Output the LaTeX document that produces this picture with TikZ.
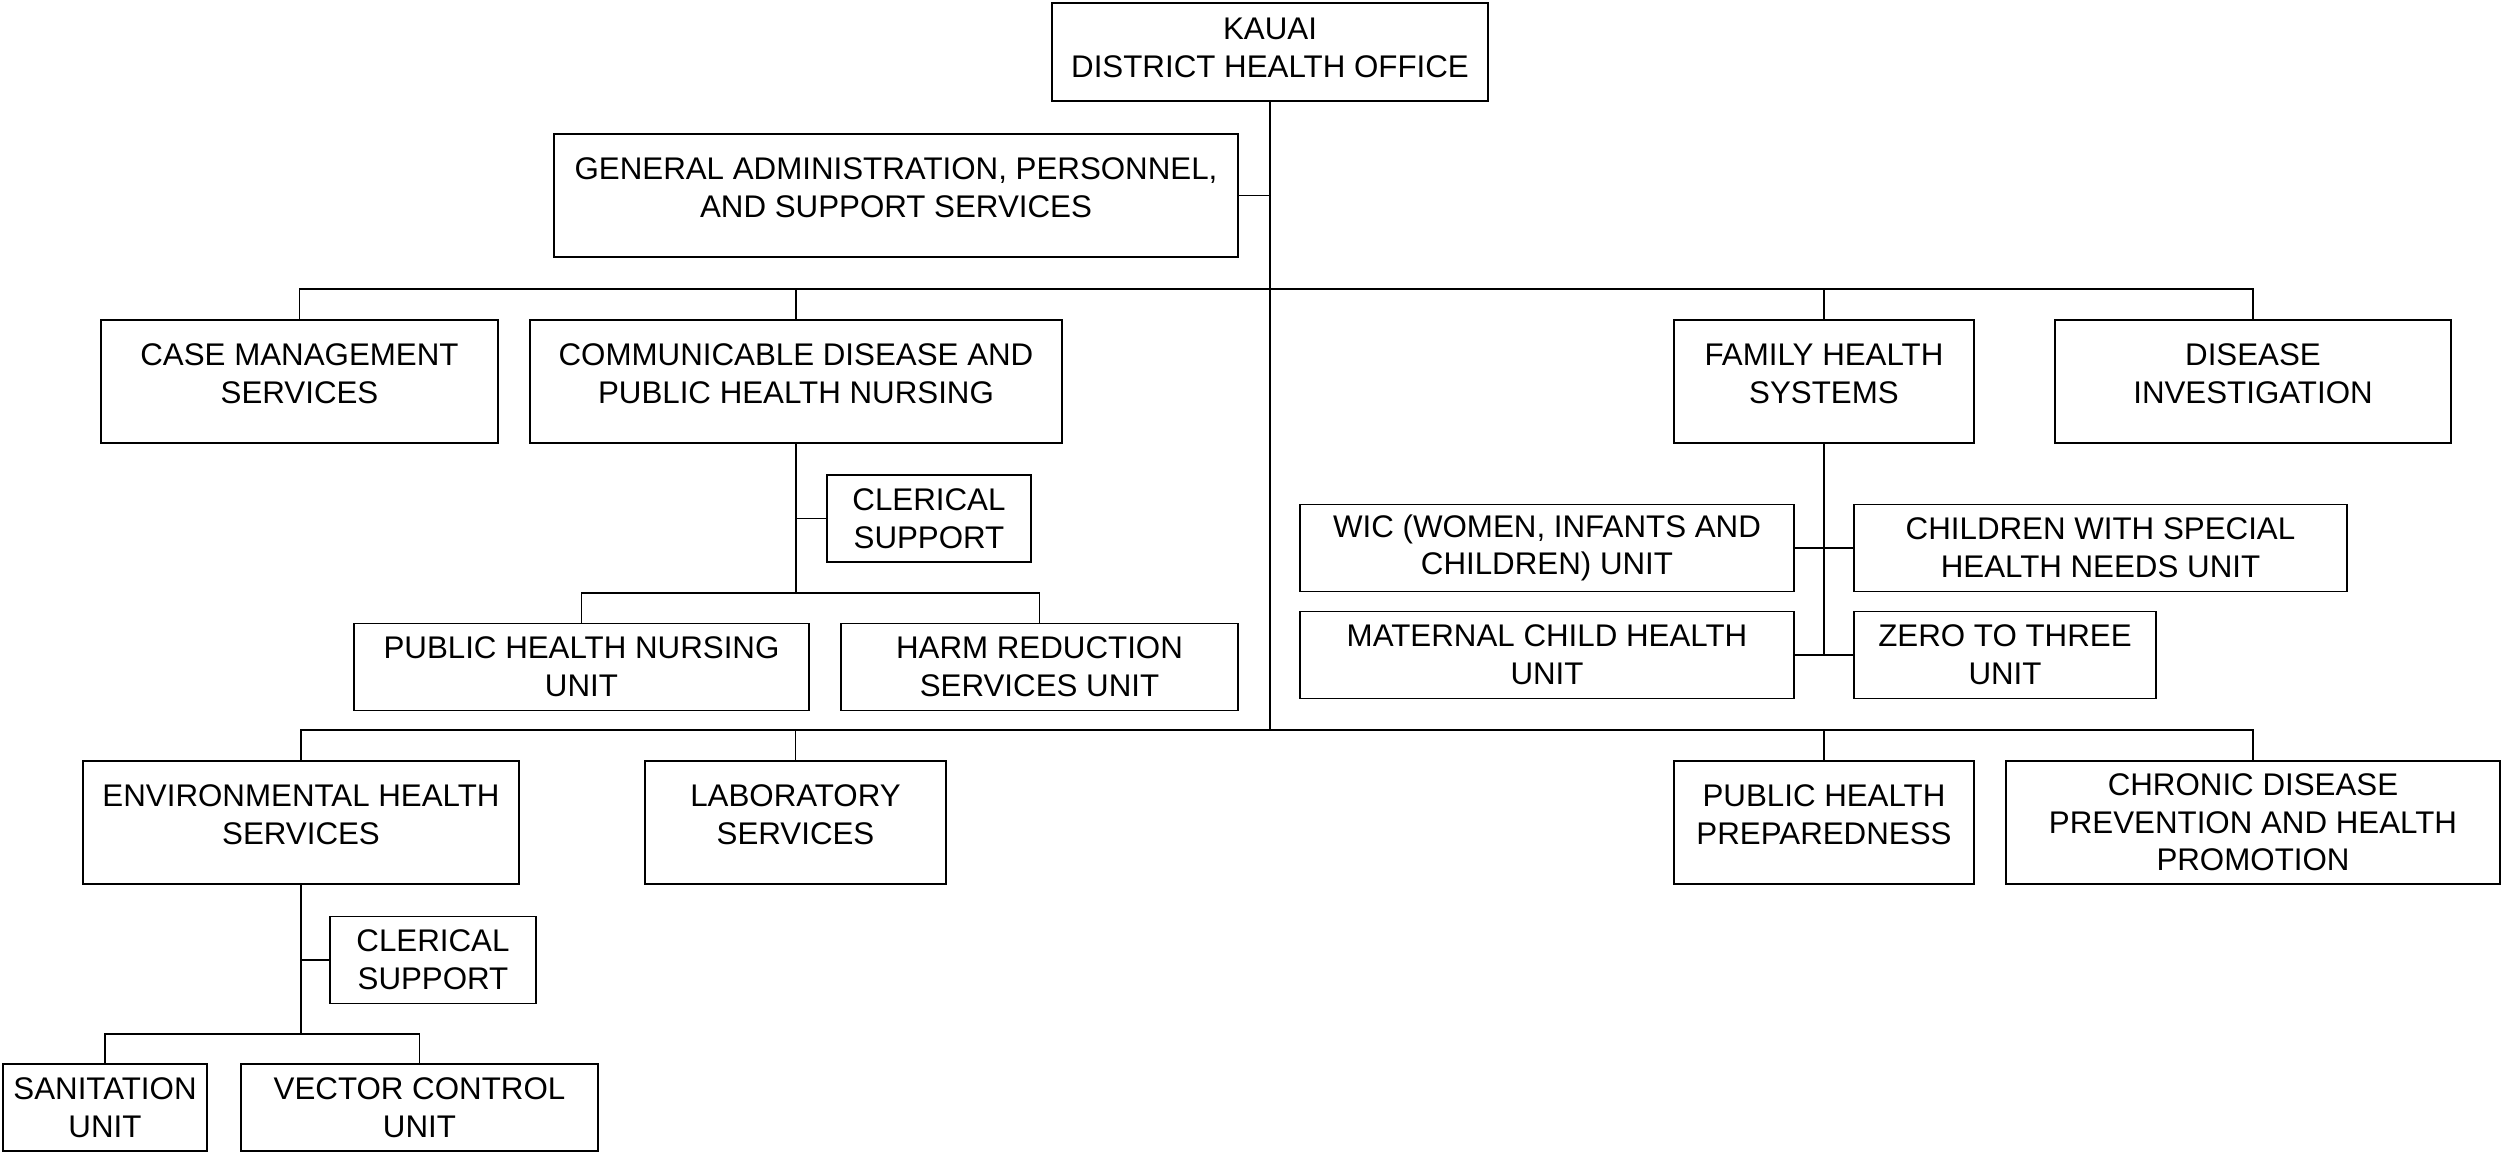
\documentclass[tikz,border=0pt]{standalone}
\usepackage{fontspec}
\setmainfont{Liberation Sans}
% invisible strut under the last line, to raise the text in the tall boxes
\newcommand{\lift}[1][4.6pt]{\rule[-#1]{0pt}{0pt}}

\begin{document}
\begin{tikzpicture}[x=0.01cm, y=-0.01cm, line width=0.45pt,
  unit/.style={draw, align=center, inner sep=0pt, font=\fontsize{8.9}{10.7}\selectfont},
  tall/.style={unit, minimum height=1.23cm},
  small/.style={unit, minimum height=0.87cm}]
\useasboundingbox (0,0) rectangle (2502,1153);
% The district office, its trunk and the two buses
\node [unit, minimum width=4.36cm, minimum height=0.98cm] (kauai) at (1270,52) {KAUAI\\DISTRICT HEALTH OFFICE\lift[2.3pt]};
\coordinate (upbus) at (1270,289);
\coordinate (lowbus) at (1270,730);
\draw (kauai.south) -- (lowbus);
\node [tall, minimum width=6.84cm] (admin) at (896,195.5) {GENERAL ADMINISTRATION, PERSONNEL,\\AND SUPPORT SERVICES\lift};
\draw (admin.east) -- (admin.east -| kauai.south);
% Branches on the upper bus
\foreach \nm/\x/\w/\txt in {
  casemgmt/299.5/3.97/{CASE MANAGEMENT\\SERVICES\lift},
  commdis/796/5.32/{COMMUNICABLE DISEASE AND\\PUBLIC HEALTH NURSING\lift},
  famhealth/1824/3.00/{FAMILY HEALTH\\SYSTEMS\lift},
  disinv/2253/3.96/{DISEASE\\INVESTIGATION\lift}} {
  \node [tall, minimum width=\w cm] (\nm) at (\x,381.5) {\txt};
  \draw (\nm.north) |- (upbus);
}
% Branches on the lower bus
\foreach \nm/\x/\w/\txt in {
  envhealth/301/4.36/{ENVIRONMENTAL HEALTH\\SERVICES\lift},
  lab/795.5/3.01/{LABORATORY\\SERVICES\lift},
  php/1824/3.00/{PUBLIC HEALTH\\PREPAREDNESS\lift},
  chronic/2253/4.94/{CHRONIC DISEASE\\PREVENTION AND HEALTH\\PROMOTION}} {
  \node [tall, minimum width=\w cm] (\nm) at (\x,822.5) {\txt};
  \draw (\nm.north) |- (lowbus);
}
% Communicable disease units
\coordinate (cdbus) at (796,593);
\draw (commdis.south) -- (cdbus);
\node [small, minimum width=2.04cm] (cdclerical) at (929,518.5) {CLERICAL\\SUPPORT};
\draw (cdclerical.west) -- (cdclerical.west -| commdis.south);
\foreach \nm/\x/\w/\txt in {
  phnunit/581.5/4.55/{PUBLIC HEALTH NURSING\\UNIT},
  harmred/1039.5/3.97/{HARM REDUCTION\\SERVICES UNIT}} {
  \node [small, minimum width=\w cm] (\nm) at (\x,667) {\txt};
  \draw (\nm.north) |- (cdbus);
}
% Environmental health units
\coordinate (ehbus) at (301,1034);
\draw (envhealth.south) -- (ehbus);
\node [small, minimum width=2.06cm] (ehclerical) at (433,960) {CLERICAL\\SUPPORT};
\draw (ehclerical.west) -- (ehclerical.west -| envhealth.south);
\foreach \nm/\x/\w/\txt in {
  sanitation/105/2.04/{SANITATION\\UNIT},
  vector/419.5/3.57/{VECTOR CONTROL\\UNIT}} {
  \node [small, minimum width=\w cm] (\nm) at (\x,1107.5) {\txt};
  \draw (\nm.north) |- (ehbus);
}
% Family health units, in pairs on either side of the stem
\node [small, minimum width=4.94cm] (wic) at (1547,548) {WIC (WOMEN, INFANTS AND\\CHILDREN) UNIT};
\node [small, minimum width=4.93cm] (cshn) at (2100.5,548) {CHILDREN WITH SPECIAL\\HEALTH NEEDS UNIT};
\node [small, minimum width=4.94cm] (mch) at (1547,655) {MATERNAL CHILD HEALTH\\UNIT};
\node [small, minimum width=3.02cm] (zerothree) at (2005,655) {ZERO TO THREE\\UNIT};
\draw (famhealth.south) -- (famhealth.south |- mch.east);
\draw (wic.east) -- (cshn.west);
\draw (mch.east) -- (zerothree.west);
\end{tikzpicture}
\end{document}
